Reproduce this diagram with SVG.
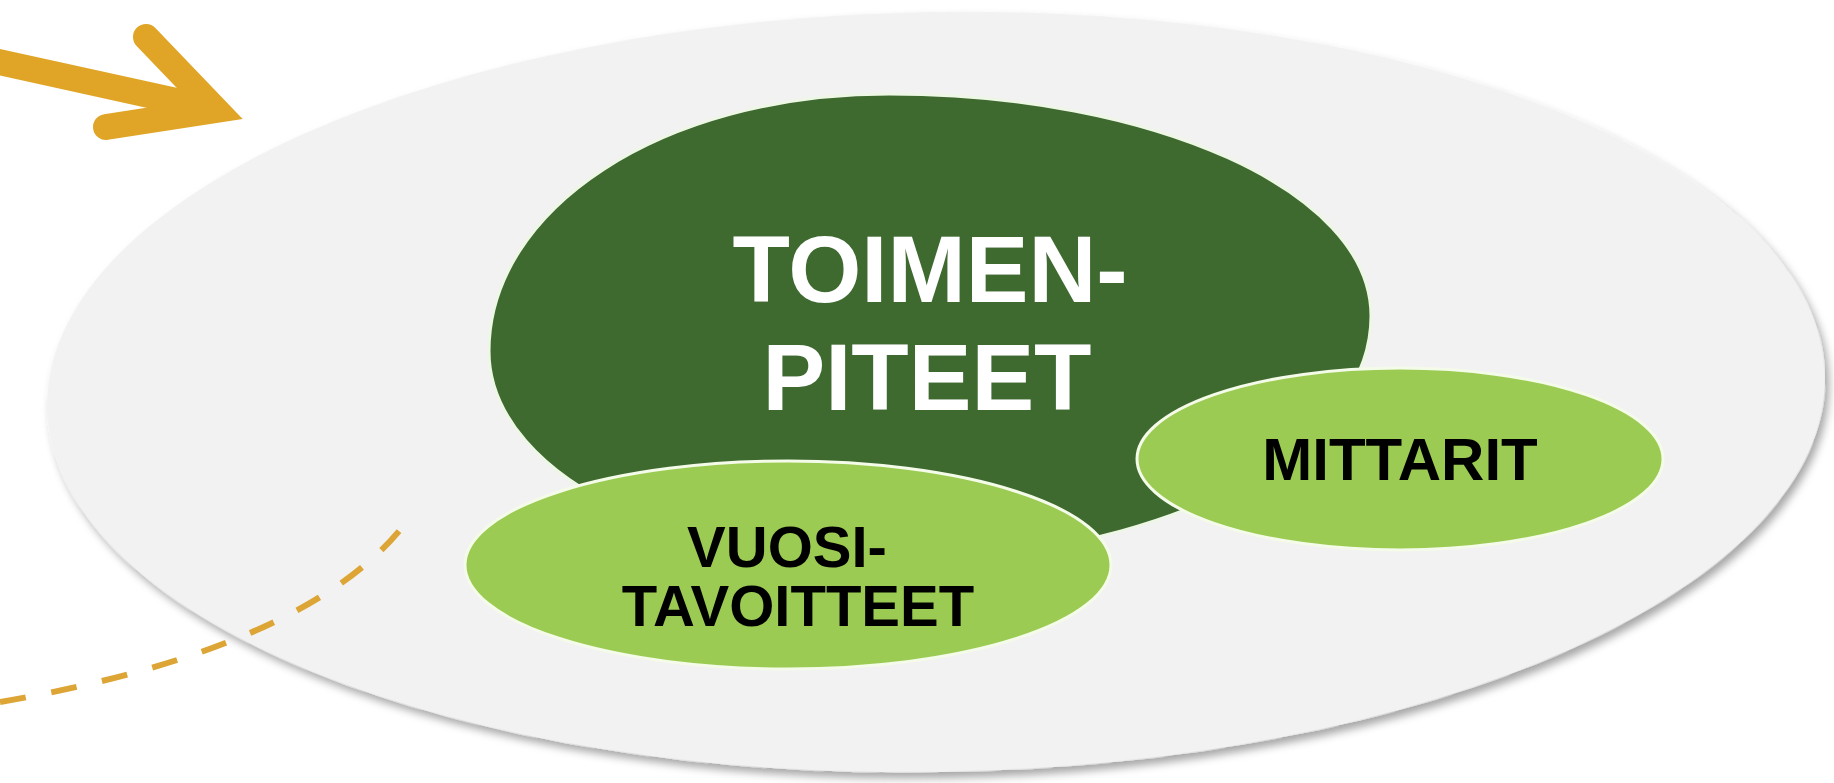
<svg xmlns="http://www.w3.org/2000/svg" width="1834" height="783" viewBox="0 0 1834 783">
<style>
.lbl{font-family:"Liberation Sans",Arial,sans-serif;font-weight:bold;text-anchor:middle}
.dark{fill:#3E6A30;stroke:#eef7e6;stroke-width:3}
.light{fill:#9BCB52;stroke:#f4fbe8;stroke-width:3}
.arrow{fill:none;stroke:#E0A526;stroke-width:26;stroke-linecap:round;stroke-linejoin:miter}
.dash{fill:none;stroke:#DCA535;stroke-width:6;stroke-dasharray:26 26}
</style>
<defs>
<filter id="sh" x="-5%" y="-10%" width="110%" height="125%">
<feDropShadow dx="4" dy="6" stdDeviation="4" flood-color="#000" flood-opacity="0.35"/>
</filter>
</defs>
<rect width="1834" height="783" fill="#ffffff"/>
<g id="outer">
<ellipse cx="936" cy="392" rx="889" ry="380" fill="#F2F2F2" filter="url(#sh)" transform="rotate(-1 936 392)"/>
</g>
<g id="connectors">
<path class="dash" d="M0,702 Q300,650 400,530"/>
</g>
<g id="arrow">
<path class="arrow" d="M-10,60 L208,108"/>
<path class="arrow" d="M146,37 L216,110 L106,127"/>
</g>
<g id="toimenpiteet">
<path class="dark" d="M889,94 C1150,94 1371,190 1371,316 C1371,440 1200,540 950,560 C700,580 489,480 489,351 C489,210 660,94 889,94 Z"/>
<text class="lbl" x="930" y="302" font-size="94" fill="#ffffff">TOIMEN-</text>
<text class="lbl" x="927" y="410" font-size="94" fill="#ffffff">PITEET</text>
</g>
<g id="vuositavoitteet">
<ellipse class="light" cx="788" cy="565" rx="323" ry="104"/>
<text class="lbl" x="787" y="567" font-size="58" fill="#000000">VUOSI-</text>
<text class="lbl" x="798" y="626" font-size="58" fill="#000000">TAVOITTEET</text>
</g>
<g id="mittarit">
<ellipse class="light" cx="1400" cy="459" rx="263" ry="91"/>
<text class="lbl" x="1400" y="480" font-size="60" fill="#000000">MITTARIT</text>
</g>
</svg>
